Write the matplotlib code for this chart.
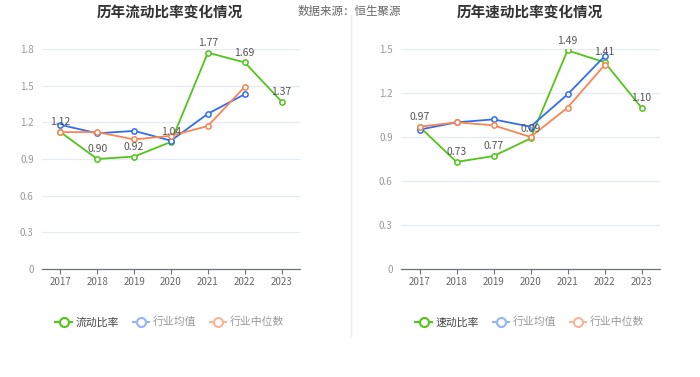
import matplotlib
matplotlib.use("Agg")
import matplotlib.pyplot as plt
from matplotlib.lines import Line2D

plt.rcParams['font.family'] = ['Noto Sans CJK SC', 'DejaVu Sans']

years = ['2017', '2018', '2019', '2020', '2021', '2022', '2023']

# Left chart: current ratio
current_ratio = [1.12, 0.90, 0.92, 1.04, 1.77, 1.69, 1.37]
current_ind_mean = [1.18, 1.11, 1.13, 1.05, 1.27, 1.43]
current_ind_median = [1.12, 1.12, 1.06, 1.09, 1.17, 1.49]

# Right chart: quick ratio
quick_ratio = [0.97, 0.73, 0.77, 0.89, 1.49, 1.41, 1.10]
quick_ind_mean = [0.95, 1.00, 1.02, 0.97, 1.19, 1.45]
quick_ind_median = [0.97, 1.00, 0.98, 0.90, 1.10, 1.39]

left_ticks = [0, 0.3, 0.6, 0.9, 1.2, 1.5, 1.8]
left_ticklabels = ['0', '0.3', '0.6', '0.9', '1.2', '1.5', '1.8']
right_ticks = [0, 0.3, 0.6, 0.9, 1.2, 1.5]
right_ticklabels = ['0', '0.3', '0.6', '0.9', '1.2', '1.5']

left_title = '历年流动比率变化情况'
right_title = '历年速动比率变化情况'
source_text = '数据来源：恒生聚源'
left_legend = ['流动比率', '行业均值', '行业中位数']
right_legend = ['速动比率', '行业均值', '行业中位数']

GREEN = '#52c41a'
BLUE = '#2f6fed'
ORANGE = '#fa8552'
BLUE_L = '#93b4f7'
ORANGE_L = '#fbb596'
GRID = '#e6eaf2'
TICK = '#999999'

W, H = 700, 377
fig = plt.figure(figsize=(W / 100, H / 100), dpi=100)


def make_axes(x0, x1, y_top, y_bot, main, mean, median, ticks, ticklabels):
    ax = fig.add_axes([x0 / W, 1 - y_bot / H, (x1 - x0) / W, (y_bot - y_top) / H])
    xs = list(range(len(years)))
    ax.set_xlim(-0.5, len(years) - 0.5)
    ax.set_ylim(ticks[0], ticks[-1])
    for t in ticks[1:]:
        ax.axhline(t, color=GRID, lw=0.9, zorder=0)
    ax.plot(xs[:len(main)], main, color=GREEN, lw=1.3, marker='o', ms=3.8,
            mfc='white', mec=GREEN, mew=1.1, zorder=3)
    ax.plot(xs[:len(mean)], mean, color=BLUE, lw=1.3, marker='o', ms=3.8,
            mfc='white', mec=BLUE, mew=1.1, zorder=4)
    ax.plot(xs[:len(median)], median, color=ORANGE, lw=1.3, marker='o', ms=3.8,
            mfc='white', mec=ORANGE, mew=1.1, zorder=5)
    for x, v in zip(xs, main):
        ax.annotate(f'{v:.2f}', (x, v), xytext=(0, 3.5), textcoords='offset points',
                    ha='center', va='bottom', fontsize=7.5, color='#555555', zorder=6)
    for s in ['top', 'right', 'left']:
        ax.spines[s].set_visible(False)
    ax.spines['bottom'].set_color('#6e7079')
    ax.spines['bottom'].set_linewidth(0.9)
    ax.set_xticks(xs)
    ax.set_xticklabels(years, fontsize=7, color='#666666')
    ax.tick_params(axis='x', length=3.5, width=0.8, color='#6e7079', pad=2)
    ax.set_yticks(ticks)
    ax.set_yticklabels(ticklabels, fontsize=7, color=TICK)
    ax.tick_params(axis='y', length=0, pad=6)
    return ax


make_axes(42, 300, 49, 269, current_ratio, current_ind_mean, current_ind_median,
          left_ticks, left_ticklabels)
make_axes(401, 660, 49, 269, quick_ratio, quick_ind_mean, quick_ind_median,
          right_ticks, right_ticklabels)

fig.text(170 / W, 1 - 12 / H, left_title, ha='center', va='center', fontsize=10.5,
         fontweight='bold', color='#333333')
fig.text(530 / W, 1 - 12 / H, right_title, ha='center', va='center', fontsize=10.5,
         fontweight='bold', color='#333333')
fig.text(298 / W, 1 - 11 / H, source_text, ha='left', va='center', fontsize=8.3,
         color='#666666')

fig.add_artist(Line2D([351 / W, 351 / W], [1 - 15 / H, 1 - 336 / H],
                      transform=fig.transFigure, color='#eeeeee', lw=1))


def make_legend(cx, labels):
    handles = [
        Line2D([], [], color=GREEN, lw=1.5, marker='o', ms=6.5, mfc='white', mec=GREEN, mew=1.5),
        Line2D([], [], color=BLUE_L, lw=1.5, marker='o', ms=6.5, mfc='white', mec=BLUE_L, mew=1.5),
        Line2D([], [], color=ORANGE_L, lw=1.5, marker='o', ms=6.5, mfc='white', mec=ORANGE_L, mew=1.5),
    ]
    leg = fig.legend(handles, labels, loc='center', bbox_to_anchor=(cx / W, 1 - 322 / H),
                     ncol=3, frameon=False, fontsize=7.8, handlelength=1.5,
                     handletextpad=0.4, columnspacing=1.2)
    cols = ['#444444', '#999999', '#999999']
    for t, c in zip(leg.get_texts(), cols):
        t.set_color(c)


make_legend(170, left_legend)
make_legend(530, right_legend)

fig.savefig('out.png', dpi=100)
